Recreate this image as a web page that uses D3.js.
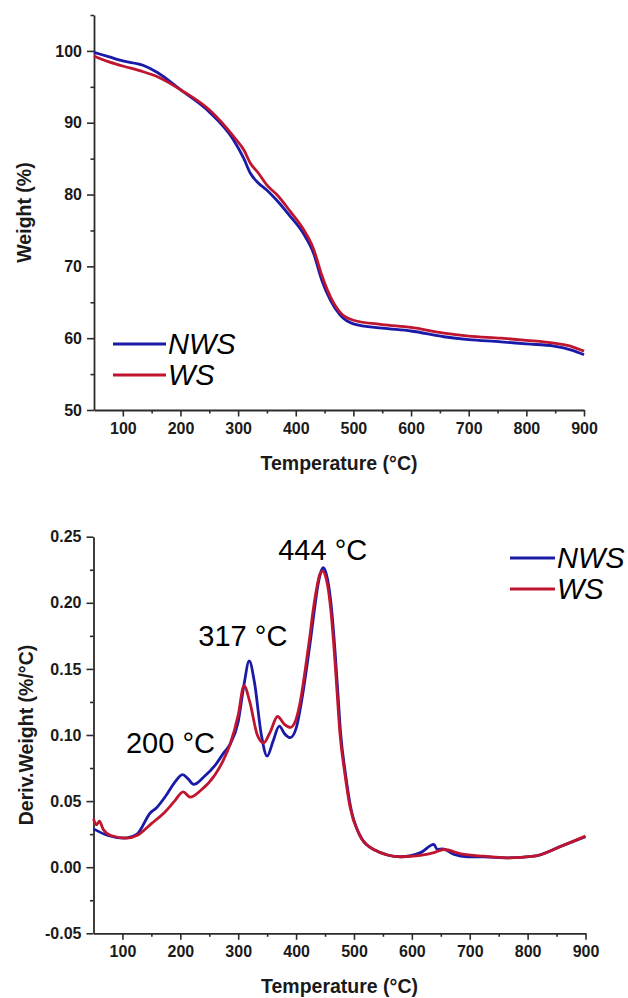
<!DOCTYPE html>
<html>
<head>
<meta charset="utf-8">
<script src="https://cdn.jsdelivr.net/npm/d3@7"></script>
<style>
  html, body { margin: 0; padding: 0; background: #fff; }
  svg { display: block; font-family: "Liberation Sans", Arial, sans-serif; }
</style>
</head>
<body>
<svg id="chart" width="628" height="998"></svg>
<script>
// --- data ---
const seriesNames = ['NWS', 'WS'];
const seriesColors = ['#1a1aa8', '#c0152f'];

// TGA (weight %)
const tgaTemp = [50, 75, 100, 135, 160, 200, 250, 292, 310, 321, 335, 350, 367, 390, 413, 431, 445, 460, 477, 500, 550, 600, 657, 700, 756, 800, 848, 880, 900];
const tgaNWS  = [99.8, 99.2, 98.6, 98.0, 97.0, 94.6, 91.5, 87.6, 85.0, 83.0, 81.6, 80.6, 79.2, 77.0, 74.6, 71.8, 68.1, 65.3, 63.2, 62.0, 61.4, 61.0, 60.2, 59.8, 59.5, 59.2, 58.9, 58.3, 57.7];
const tgaWS   = [99.3, 98.5, 97.9, 97.1, 96.4, 94.6, 91.8, 88.1, 86.2, 84.4, 83.0, 81.3, 80.0, 77.7, 75.2, 72.4, 68.8, 65.8, 63.6, 62.5, 61.9, 61.5, 60.7, 60.3, 60.0, 59.7, 59.3, 58.8, 58.2];

// DTG (%/°C)
const dtgTempNWS = [50, 75, 102, 125, 148, 159, 175, 190, 204, 213, 223, 240, 260, 275, 286, 300, 310, 319, 328, 340, 350, 360, 371, 380, 390, 400, 410, 418, 425, 432, 438, 443, 447, 452, 457, 462, 467, 472, 477, 485, 494, 508, 534, 581, 615, 638, 644, 653, 673, 696, 725, 765, 811, 858, 900];
const dtgNWS     = [0.029, 0.024, 0.022, 0.025, 0.041, 0.045, 0.054, 0.064, 0.070, 0.067, 0.0626, 0.068, 0.077, 0.0865, 0.093, 0.110, 0.138, 0.156, 0.140, 0.100, 0.084, 0.095, 0.1067, 0.101, 0.098, 0.105, 0.127, 0.150, 0.172, 0.196, 0.214, 0.2235, 0.2265, 0.222, 0.211, 0.192, 0.165, 0.133, 0.101, 0.0716, 0.046, 0.026, 0.0134, 0.0079, 0.011, 0.0172, 0.0134, 0.0139, 0.0096, 0.0079, 0.0078, 0.0071, 0.0083, 0.0159, 0.023];
const dtgTempWS = [50, 55, 60, 67, 80, 107, 125, 150, 174, 190, 205, 217, 235, 260, 275, 286, 300, 310, 320, 333, 344, 355, 368, 380, 390, 400, 408, 416, 423, 430, 436, 441, 446, 451, 456, 461, 466, 471, 476, 484, 493, 508, 534, 581, 615, 638, 655, 685, 725, 765, 811, 858, 900];
const dtgWS     = [0.0366, 0.032, 0.0348, 0.0285, 0.024, 0.022, 0.024, 0.033, 0.042, 0.050, 0.057, 0.053, 0.058, 0.070, 0.0815, 0.093, 0.115, 0.1374, 0.125, 0.100, 0.094, 0.102, 0.114, 0.108, 0.1057, 0.112, 0.127, 0.150, 0.172, 0.196, 0.212, 0.2215, 0.224, 0.220, 0.209, 0.190, 0.163, 0.131, 0.100, 0.0716, 0.046, 0.026, 0.0134, 0.0079, 0.009, 0.011, 0.0134, 0.0101, 0.0083, 0.0071, 0.0083, 0.0159, 0.0235];

const xMajorTicks = [100, 200, 300, 400, 500, 600, 700, 800, 900];
const xMinorTicks = [150, 250, 350, 450, 550, 650, 750, 850];
const tgaMajorTicks = [50, 60, 70, 80, 90, 100];
const tgaMinorTicks = [55, 65, 75, 85, 95, 105];
const dtgMajorTicks = [-0.05, 0, 0.05, 0.10, 0.15, 0.20, 0.25];
const dtgMinorTicks = [-0.025, 0.025, 0.075, 0.125, 0.175, 0.225];

const peakTemps = [200, 317, 444];
const peakLabelAt = [[183, 0.0865], [308, 0.167], [446, 0.2327]];

const xTitle = 'Temperature (°C)';
const tgaTitle = 'Weight (%)';
const dtgTitle = 'Deriv.Weight (%/°C)';

// --- drawing ---
const svg = d3.select('#chart');
const AXIS = '#2b2b2b';
const TXT = '#1a1a1a';

function drawPanel(cfg) {
  const g = svg.append('g');
  const x = d3.scaleLinear().domain([50, 900]).range(cfg.xRange);
  const y = d3.scaleLinear().domain(cfg.yDomain).range(cfg.yRange);

  // minor ticks
  g.append('g')
    .attr('transform', `translate(0,${cfg.yRange[0]})`)
    .call(d3.axisBottom(x).tickValues(xMinorTicks).tickSize(3.5).tickFormat(''))
    .call((a) => a.select('.domain').remove());
  g.append('g')
    .attr('transform', `translate(${cfg.xRange[0]},0)`)
    .call(d3.axisLeft(y).tickValues(cfg.yMinor).tickSize(3.5).tickFormat(''))
    .call((a) => a.select('.domain').remove());

  // major ticks + labels
  const xa = g.append('g')
    .attr('transform', `translate(0,${cfg.yRange[0]})`)
    .call(d3.axisBottom(x).tickValues(xMajorTicks).tickSize(6.5).tickSizeOuter(0).tickPadding(6));
  const ya = g.append('g')
    .attr('transform', `translate(${cfg.xRange[0]},0)`)
    .call(d3.axisLeft(y).tickValues(cfg.yMajor).tickSize(7).tickSizeOuter(0).tickPadding(5).tickFormat(cfg.fmt));

  [xa, ya].forEach((a) => {
    a.select('.domain').attr('stroke', AXIS).attr('stroke-width', 1.8);
    a.selectAll('text')
      .attr('fill', TXT)
      .style('font-size', '16px')
      .style('font-weight', 'bold')
      .style('font-family', '"Liberation Sans", Arial, sans-serif');
  });
  g.selectAll('.tick line').attr('stroke', AXIS).attr('stroke-width', 1.6);

  // axis titles
  g.append('text')
    .attr('x', (cfg.xRange[0] + cfg.xRange[1]) / 2)
    .attr('y', cfg.xTitleY)
    .attr('text-anchor', 'middle')
    .attr('fill', TXT)
    .style('font-size', '19.5px')
    .style('font-weight', 'bold')
    .text(xTitle);
  g.append('text')
    .attr('transform', `translate(${cfg.yTitleX},${(cfg.yRange[0] + cfg.yRange[1]) / 2}) rotate(-90)`)
    .attr('text-anchor', 'middle')
    .attr('fill', TXT)
    .style('font-size', '19.5px')
    .style('font-weight', 'bold')
    .text(cfg.yTitle);

  // curves
  const line = d3.line()
    .x((d) => x(d[0]))
    .y((d) => y(d[1]))
    .curve(d3.curveMonotoneX);
  cfg.series.forEach((s, i) => {
    g.append('path')
      .datum(d3.zip(s.t, s.v))
      .attr('fill', 'none')
      .attr('stroke', seriesColors[i])
      .attr('stroke-width', 2.8)
      .attr('stroke-linejoin', 'round')
      .attr('d', line);
  });

  // legend
  seriesNames.forEach((name, i) => {
    const ly = cfg.legend.y + i * cfg.legend.gap;
    g.append('line')
      .attr('x1', cfg.legend.x1).attr('x2', cfg.legend.x2)
      .attr('y1', ly).attr('y2', ly)
      .attr('stroke', seriesColors[i])
      .attr('stroke-width', 3);
    g.append('text')
      .attr('x', cfg.legend.x2 + 2)
      .attr('y', ly + 10)
      .attr('fill', '#000')
      .style('font-size', '29px')
      .style('font-style', 'italic')
      .text(name);
  });

  return { g, x, y };
}

drawPanel({
  xRange: [94, 584],
  yDomain: [50, 105],
  yRange: [410, 15],
  yMajor: tgaMajorTicks,
  yMinor: tgaMinorTicks,
  fmt: d3.format('d'),
  xTitleY: 470,
  yTitleX: 31,
  yTitle: tgaTitle,
  series: [{ t: tgaTemp, v: tgaNWS }, { t: tgaTemp, v: tgaWS }],
  legend: { x1: 113, x2: 166, y: 344, gap: 31 }
});

const dtg = drawPanel({
  xRange: [93.5, 585.5],
  yDomain: [-0.05, 0.25],
  yRange: [933.3, 536.7],
  yMajor: dtgMajorTicks,
  yMinor: dtgMinorTicks,
  fmt: (v) => v.toFixed(2),
  xTitleY: 993,
  yTitleX: 33,
  yTitle: dtgTitle,
  series: [{ t: dtgTempNWS, v: dtgNWS }, { t: dtgTempWS, v: dtgWS }],
  legend: { x1: 510, x2: 555, y: 558, gap: 31 }
});

// peak annotations
peakTemps.forEach((t, i) => {
  dtg.g.append('text')
    .attr('x', dtg.x(peakLabelAt[i][0]))
    .attr('y', dtg.y(peakLabelAt[i][1]))
    .attr('text-anchor', 'middle')
    .attr('fill', '#000')
    .style('font-size', '29px')
    .text(`${t} °C`);
});
</script>
</body>
</html>
